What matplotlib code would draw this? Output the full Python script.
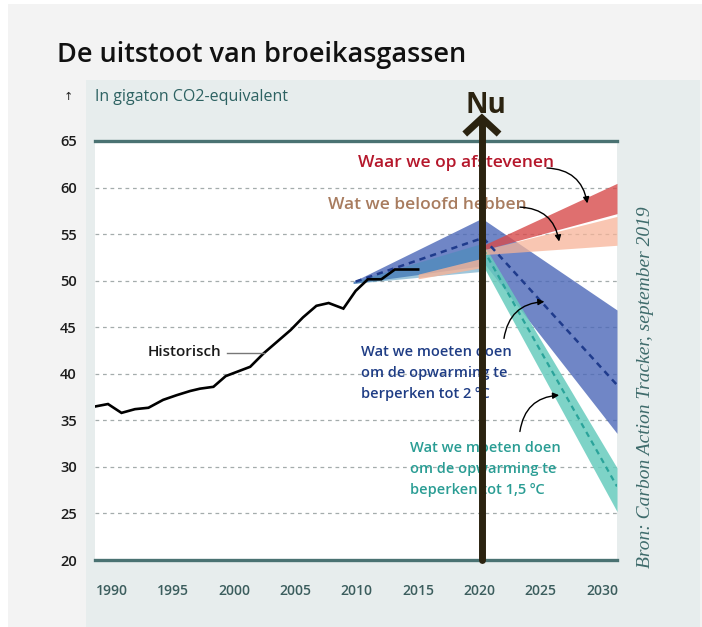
import matplotlib
matplotlib.use("Agg")
import matplotlib.pyplot as plt
from matplotlib.patches import Rectangle

plt.rcParams['font.family'] = ['Open Sans', 'DejaVu Sans']

# ---------------- data ----------------
hist_years = [1988.7, 1989.7, 1990.8, 1991.9, 1993.0, 1994.2, 1995.3, 1996.4, 1997.2,
              1998.3, 1999.3, 2000.2, 2001.3, 2002.4, 2003.5, 2004.6, 2005.6, 2006.7,
              2007.7, 2008.9, 2009.9, 2010.9, 2012.0, 2013.1, 2015.0]
hist_values = [36.5, 36.75, 35.8, 36.2, 36.35, 37.2, 37.7, 38.15, 38.4,
               38.6, 39.75, 40.2, 40.75, 42.2, 43.45, 44.7, 46.05, 47.3,
               47.6, 47.0, 48.9, 50.15, 50.15, 51.2, 51.2]

pre_years = [2009.7, 2020.2]
blue_pre_low = [49.7, 51.6]
blue_pre_high = [49.9, 56.7]
teal_pre_low = [49.7, 51.0]
teal_pre_high = [49.9, 54.0]

peach_pre_years = [2015.0, 2020.2]
peach_pre_low = [50.2, 51.4]
peach_pre_high = [50.7, 52.4]

post_years = [2020.3, 2031.22]
red_low = [53.3, 57.2]
red_high = [53.8, 60.45]
peach_low = [52.8, 53.8]
peach_high = [53.3, 56.9]
blue_low = [52.0, 33.6]
blue_high = [56.6, 46.85]
teal_low = [51.6, 25.2]
teal_high = [54.0, 29.9]

blue_mid_years = [2009.9, 2020.3, 2031.22]
blue_mid = [49.9, 54.6, 38.8]
teal_mid_years = [2020.3, 2031.22]
teal_mid = [53.4, 27.9]

y_ticks = [20, 25, 30, 35, 40, 45, 50, 55, 60, 65]
x_ticks = [1990, 1995, 2000, 2005, 2010, 2015, 2020, 2025, 2030]
now_year = 2020.2

# ---------------- figure ----------------
W, H = 702, 627
fig = plt.figure(figsize=(W / 100, H / 100), dpi=100)
fig.patch.set_facecolor('white')

def fx(px):
    return px / W

def fy(py):
    return 1 - py / H

# outer light gray and panel
fig.patches.append(Rectangle((fx(8), 0), fx(694), fy(4), transform=fig.transFigure,
                             facecolor='#f3f3f3', edgecolor='none', zorder=-10))
fig.patches.append(Rectangle((fx(86), 0), fx(700 - 86), fy(80), transform=fig.transFigure,
                             facecolor='#e7eded', edgecolor='none', zorder=-9))

ax = fig.add_axes([fx(95), fy(560), fx(617 - 95), (560 - 141) / H])
ax.set_zorder(1)
ax.set_facecolor('white')
ax.set_xlim(1988.64, 2031.22)
ax.set_ylim(20, 65)
for s in ax.spines.values():
    s.set_visible(False)

# grid
for v in y_ticks[1:-1]:
    ax.axhline(v, color='#a4acac', lw=0.9, ls=(0, (3, 3)), zorder=1)
ax.axhline(65, color='#4a7272', lw=2.4, zorder=2, clip_on=False)
ax.axhline(20, color='#4a7272', lw=2.4, zorder=2, clip_on=False)

ax.set_yticks(y_ticks)
ax.set_xticks(x_ticks)
ax.tick_params(axis='both', length=0)
ax.tick_params(axis='y', pad=13, labelsize=10.5, labelcolor='#1c1c1c')
ax.tick_params(axis='x', pad=17, labelsize=10, labelcolor='#3b5d5d')
for lab in ax.get_yticklabels() + ax.get_xticklabels():
    lab.set_fontweight('semibold')

# bands
ax.fill_between(pre_years, blue_pre_low, blue_pre_high, color='#4c68b8', alpha=0.8, lw=0, zorder=3)
ax.fill_between(pre_years, teal_pre_low, teal_pre_high, color='#3f8fb8', alpha=0.5, lw=0, zorder=3)
ax.fill_between(peach_pre_years, peach_pre_low, peach_pre_high, color='#f7b498', alpha=0.8, lw=0, zorder=3)

ax.fill_between(post_years, blue_low, blue_high, color='#4c68b8', alpha=0.8, lw=0, zorder=3)
ax.fill_between(post_years, teal_low, teal_high, color='#68ccbe', alpha=0.85, lw=0, zorder=3)
ax.fill_between(post_years, red_low, red_high, color='#d74b4b', alpha=0.8, lw=0, zorder=3)
ax.fill_between(post_years, peach_low, peach_high, color='#f7b498', alpha=0.75, lw=0, zorder=3)

ax.plot(blue_mid_years, blue_mid, color='#1f3b8c', lw=1.8, ls=(0, (2.5, 2)), zorder=4)
ax.plot(teal_mid_years, teal_mid, color='#2aa39a', lw=1.6, ls=(0, (2.5, 2)), zorder=4)

# history
ax.plot(hist_years, hist_values, color='black', lw=1.9, zorder=5, solid_joinstyle='miter')
ax.plot([1999.4, 2002.4], [42.25, 42.25], color='#777777', lw=1, zorder=5)
ax.text(1998.94, 42.34, 'Historisch', ha='right', va='center', fontsize=11,
        fontweight='semibold', color='#1a1a1a', zorder=6)

# annotations
ax.text(2010.1, 62.64, 'Waar we op afstevenen', ha='left', va='center', fontsize=12.5,
        fontweight='semibold', color='#b5172b', zorder=6)
ax.text(2007.67, 58.13, 'Wat we beloofd hebben', ha='left', va='center', fontsize=12.5,
        fontweight='semibold', color='#a87c5f', zorder=6)
ax.text(2010.35, 40.08, 'Wat we moeten doen\nom de opwarming te\nberperken tot 2 ºC',
        ha='left', va='center', fontsize=10.5, fontweight='semibold', color='#1f3d85',
        linespacing=1.6, zorder=6)
ax.text(2014.37, 29.77, 'Wat we moeten doen\nom de opwarming te\nbeperken tot 1,5 ºC',
        ha='left', va='center', fontsize=10.5, fontweight='semibold', color='#2a9d94',
        linespacing=1.6, zorder=6)

arrow_kw = dict(arrowstyle='-|>', color='black', lw=1, mutation_scale=9, shrinkA=0, shrinkB=0)
ax.annotate('', xy=(2028.8, 58.3), xytext=(2025.5, 62.1),
            arrowprops=dict(connectionstyle='arc3,rad=-0.4', **arrow_kw), zorder=6)
ax.annotate('', xy=(2026.5, 54.2), xytext=(2023.3, 57.9),
            arrowprops=dict(connectionstyle='arc3,rad=-0.4', **arrow_kw), zorder=6)
ax.annotate('', xy=(2025.3, 47.75), xytext=(2022.0, 43.8),
            arrowprops=dict(connectionstyle='arc3,rad=-0.4', **arrow_kw), zorder=6)
ax.annotate('', xy=(2026.5, 37.7), xytext=(2023.3, 33.8),
            arrowprops=dict(connectionstyle='arc3,rad=-0.4', **arrow_kw), zorder=6)

# "Nu" arrow
nu_col = '#2b2310'
ax.plot([now_year, now_year], [20, 67.3], color=nu_col, lw=5, solid_capstyle='round',
        zorder=8, clip_on=False)
ax.plot([now_year - 1.4, now_year, now_year + 1.4], [65.75, 67.45, 65.75], color=nu_col,
        lw=5, solid_joinstyle='miter', solid_capstyle='butt', zorder=8, clip_on=False)
ax.text(now_year + 0.35, 68.85, 'Nu', ha='center', va='center', fontsize=20,
        fontweight='bold', color=nu_col, zorder=8, clip_on=False)

# titles
fig.text(fx(57), fy(55), 'De uitstoot van broeikasgassen', ha='left', va='center',
         fontsize=19.5, fontweight='semibold', color='#111111')
fig.text(fx(68), fy(97), '↑', ha='center', va='center', fontsize=8, color='#222222',
         family=['DejaVu Sans'])
fig.text(fx(95), fy(97), 'In gigaton CO2-equivalent', ha='left', va='center',
         fontsize=11.5, color='#2d6262')
fig.text(fx(645), fy(387), 'Bron: Carbon Action Tracker, september 2019', rotation=90,
         ha='center', va='center', fontsize=14, style='italic', color='#3e6b6b',
         family=['Liberation Serif', 'DejaVu Serif'])

fig.savefig('out.png', dpi=100, facecolor=fig.get_facecolor())
